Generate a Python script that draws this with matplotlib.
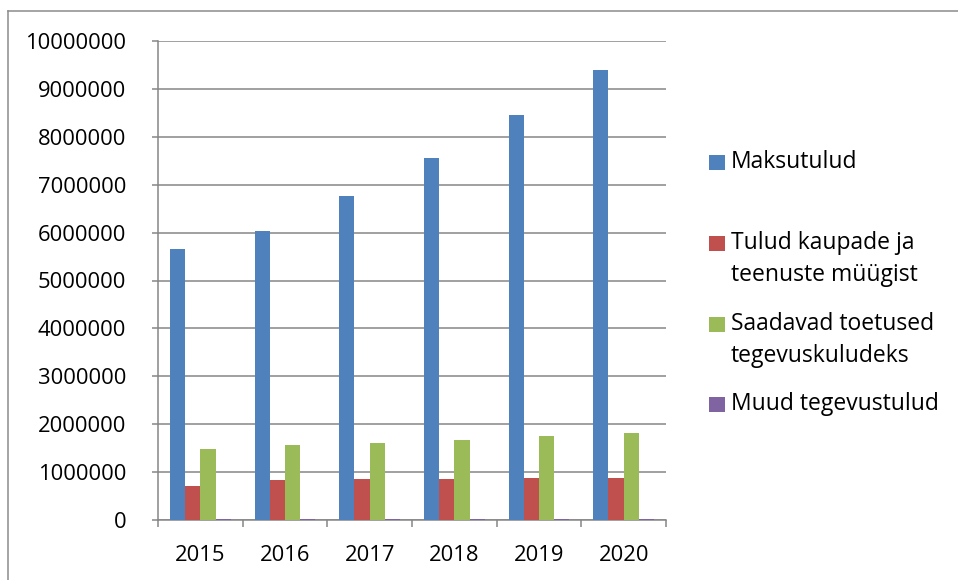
import numpy as np
import matplotlib.pyplot as plt
from matplotlib.patches import Rectangle
from matplotlib.lines import Line2D

years = ['2015', '2016', '2017', '2018', '2019', '2020']
maksutulud = [5650000, 6030000, 6770000, 7560000, 8460000, 9390000]
tulud_kaupade = [705000, 826000, 847000, 847000, 868000, 868000]
toetused = [1477000, 1560000, 1617000, 1680000, 1750000, 1813000]
muud = [15000, 15000, 15000, 15000, 15000, 15000]

labels = ['Maksutulud', 'Tulud kaupade ja\nteenuste müügist',
          'Saadavad toetused\ntegevuskuludeks', 'Muud tegevustulud']
colors = ['#4F81BD', '#C0504D', '#9BBB59', '#8064A2']

plt.rcParams['font.family'] = ['Open Sans', 'DejaVu Sans']
FS = 15.8
W, H = 958, 580

fig = plt.figure(figsize=(W / 100, H / 100), dpi=100)
ax = fig.add_axes([158 / W, 1 - 520 / H, (666 - 158) / W, (520 - 41) / H])

x = np.arange(len(years))
bw = 0.18
series = [maksutulud, tulud_kaupade, toetused, muud]
for i, (vals, col) in enumerate(zip(series, colors)):
    ax.bar(x + (i - 1.5) * bw, vals, bw, color=col, linewidth=0, zorder=3)

ax.set_xlim(-0.5, len(years) - 0.5)
ax.set_ylim(0, 10000000)
ax.set_yticks(np.arange(0, 10000001, 1000000))
ax.set_yticklabels([str(v) for v in range(0, 10000001, 1000000)], fontsize=FS)
ax.set_xticks(x)
ax.set_xticklabels(years, fontsize=FS)
ax.set_xticks(np.arange(-0.5, len(years), 1), minor=True)

gray = '#868686'
ax.yaxis.grid(True, color=gray, linewidth=1.1, zorder=0)
ax.set_axisbelow(True)
for s in ['top', 'right']:
    ax.spines[s].set_visible(False)
for s in ['left', 'bottom']:
    ax.spines[s].set_color(gray)
    ax.spines[s].set_linewidth(1.1)

ax.tick_params(axis='y', length=4, width=1.1, color=gray, pad=19, labelcolor='black')
ax.tick_params(axis='x', which='major', length=0, pad=18, labelcolor='black')
ax.tick_params(axis='x', which='minor', length=5, width=1.1, color=gray)

# chart frame (top and left edges visible)
fig.add_artist(Line2D([8 / W, 1], [1 - 11 / H, 1 - 11 / H], color='#8c8c8c', linewidth=1.1))
fig.add_artist(Line2D([8 / W, 8 / W], [1 - 11 / H, 0], color='#8c8c8c', linewidth=1.1))

# legend
ys = [162, 243, 324, 404]
for lab, col, yc in zip(labels, colors, ys):
    fig.add_artist(Rectangle((709 / W, 1 - (yc + 7.5) / H), 15.5 / W, 15 / H,
                             facecolor=col, edgecolor='none', transform=fig.transFigure))
    for j, line in enumerate(lab.split('\n')):
        fig.text(731 / W, 1 - (yc + j * 32) / H, line, fontsize=16.5,
                 va='center', ha='left')

fig.savefig('out.png', dpi=100)
